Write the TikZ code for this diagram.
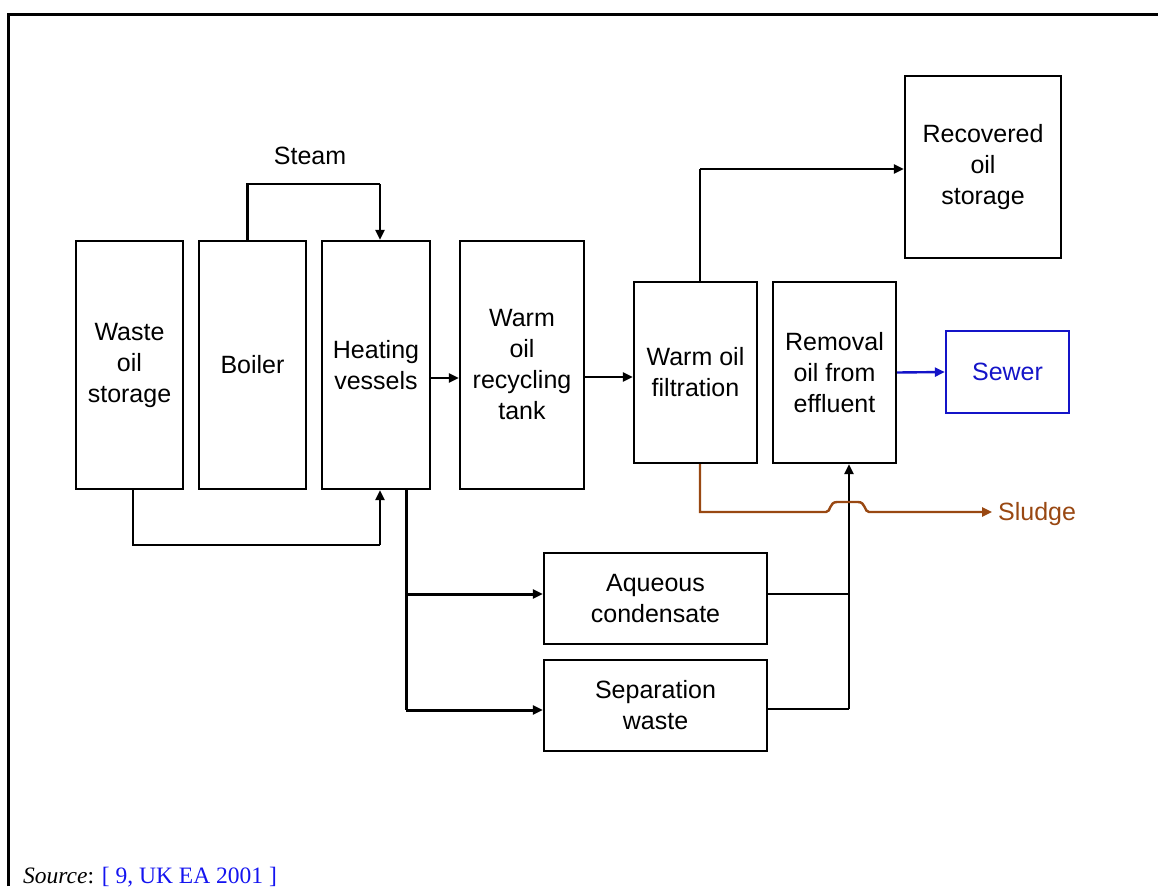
\documentclass[tikz,border=0pt]{standalone}
\usepackage{fontspec}
\setmainfont{Liberation Sans}
\newfontfamily\capfont{Liberation Serif}
\usetikzlibrary{arrows.meta}
\definecolor{sludgebrown}{RGB}{153,72,18}
\definecolor{sewerblue}{RGB}{20,20,200}
\definecolor{linkblue}{RGB}{20,20,240}
\begin{document}
\begin{tikzpicture}[x=1pt,y=-1pt,
  box/.style={draw,line width=2.4pt,align=center,inner sep=0pt,
    font=\fontsize{25}{31}\selectfont},
  conn/.style={line width=2.4pt},
  arr/.style={line width=2.4pt,-{Triangle[length=10pt,width=9pt]}},
  thick conn/.style={line width=3pt},
  thick arr/.style={line width=3pt,-{Triangle[length=10pt,width=9pt]}},
  lbl/.style={font=\fontsize{25}{31}\selectfont,inner sep=0pt}]
\useasboundingbox (0,0) rectangle (1158,886);
% frame
\draw[line width=3pt] (8,886) -- (8,14) -- (1158,14);
% boxes
\node[box,minimum width=107pt,minimum height=248pt] (waste) at (129.5,365) {Waste\\oil\\storage};
\node[box,minimum width=107pt,minimum height=248pt] (boiler) at (252.5,365) {Boiler};
\node[box,minimum width=108pt,minimum height=248pt] (heat) at (376,365) {Heating\\vessels};
\node[box,minimum width=124pt,minimum height=248pt] (tank) at (522,365) {Warm\\oil\\recycling\\tank};
\node[box,minimum width=123pt,minimum height=181pt] (filt) at (695.5,372.5) {Warm oil\\filtration};
\node[box,minimum width=123pt,minimum height=181pt] (remo) at (834.5,372.5) {Removal\\oil from\\effluent};
\node[box,minimum width=156pt,minimum height=182pt] (recov) at (983,167) {Recovered\\oil\\storage};
\node[box,draw=sewerblue,text=sewerblue,minimum width=123pt,minimum height=82pt] (sewer) at (1007.5,372) {Sewer};
\node[box,minimum width=223pt,minimum height=91pt] (aq) at (655.5,598.5) {Aqueous\\condensate};
\node[box,minimum width=223pt,minimum height=91pt] (sep) at (655.5,705.5) {Separation\\waste};
% labels
\node[lbl] (steam) at (310,156) {Steam};
\node[lbl,text=sludgebrown,anchor=west] (sludge) at (998,514) {Sludge};
\node[anchor=base west,inner sep=0pt,font=\capfont\fontsize{23.5}{28}\selectfont] (src) at (23,883)
  {\textit{Source}: \textcolor{linkblue}{[ 9, UK EA 2001 ]}};
% coordinates
\coordinate (st1) at (247.5,184);
\coordinate (st2) at (380,184);
\coordinate (wb) at (133,545);
\coordinate (wb2) at (380,545);
\coordinate (ht) at (0,378);
\coordinate (tf) at (0,377);
\coordinate (hb) at (406,594);
\coordinate (hb2) at (406,710);
\coordinate (ft) at (700,169);
\coordinate (aqr) at (849,594);
\coordinate (sepr) at (849,709);
\coordinate (sl1) at (700,512);
\coordinate (sl2) at (826,512);
\coordinate (sl3) at (869,512);
\coordinate (sl4) at (992,512);
% connectors
\draw[conn] (boiler.north -| st1) -- (st1) -- (st2);
\draw[arr] (st2) -- (heat.north -| st2);
\draw[conn] (waste.south -| wb) -- (wb) -- (wb2);
\draw[arr] (wb2) -- (heat.south -| wb2);
\draw[arr] (heat.east |- ht) -- (tank.west |- ht);
\draw[arr] (tank.east |- tf) -- (filt.west |- tf);
\draw[conn] (filt.north -| ft) -- (ft);
\draw[arr] (ft) -- (recov.west |- ft);
\draw[arr,draw=sewerblue] (remo.east) -- (sewer.west);
\draw[thick conn] (heat.south -| hb) -- (hb2);
\draw[thick arr] (hb) -- (aq.west |- hb);
\draw[thick arr] (hb2) -- (sep.west |- hb2);
\draw[conn] (aq.east |- aqr) -- (aqr);
\draw[conn] (sep.east |- sepr) -- (sepr);
\draw[arr] (sepr) -- (remo.south -| sepr);
\draw[arr,draw=sludgebrown]
  (filt.south -| sl1) -- (sl1) -- (sl2)
  .. controls (831,512) and (829,502) .. (837,502) -- (858,502)
  .. controls (866,502) and (864,512) .. (sl3) -- (sl4);
\end{tikzpicture}
\end{document}
